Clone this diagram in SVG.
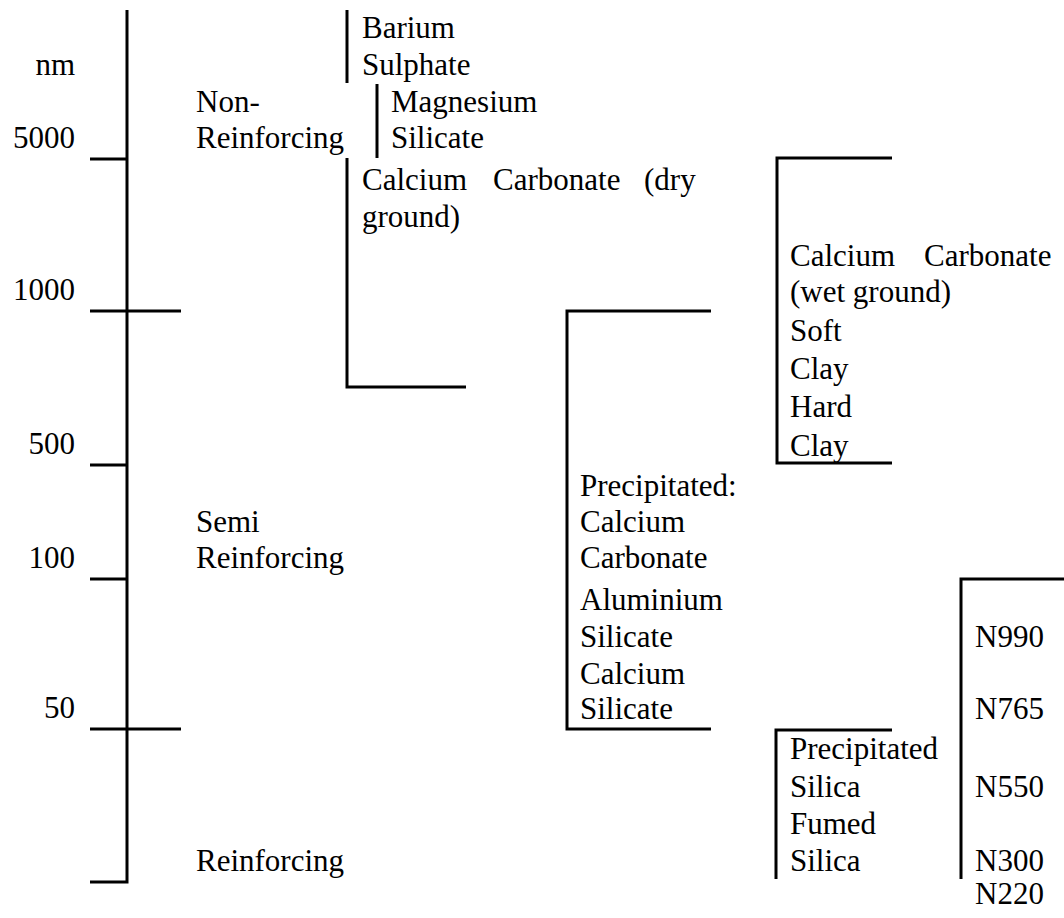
<svg xmlns="http://www.w3.org/2000/svg" width="1064" height="918" viewBox="0 0 1064 918">
  <style>
    text { font-family: "Liberation Serif", "Times New Roman", serif; font-size: 31px; fill: #000; }
    .ax { text-anchor: end; }
    .ln { fill: none; stroke: #000; stroke-width: 3; stroke-linecap: butt; stroke-linejoin: miter; }
  </style>
  <rect width="1064" height="918" fill="#fff"/>

  <g id="connectors">
    <!-- main scale axis -->
    <path class="ln" d="M127 10 V882 H90"/>
    <path class="ln" d="M90 159 H127"/>
    <path class="ln" d="M90 311 H181"/>
    <path class="ln" d="M90 465 H127"/>
    <path class="ln" d="M90 579 H127"/>
    <path class="ln" d="M90 729 H181"/>
    <!-- brackets -->
    <path class="ln" d="M347 10 V83"/>
    <path class="ln" d="M377 84 V158"/>
    <path class="ln" d="M347 158 V387 H466"/>
    <path class="ln" d="M711 311 H567 V729 H711"/>
    <path class="ln" d="M892 158 H777 V463 H892"/>
    <path class="ln" d="M892 730 H776 V879"/>
    <path class="ln" d="M1064 579 H961 V879"/>
  </g>

  <g id="scale-labels">
    <text class="ax" x="75" y="75">nm</text>
    <text class="ax" x="75" y="148">5000</text>
    <text class="ax" x="75" y="300">1000</text>
    <text class="ax" x="75" y="454">500</text>
    <text class="ax" x="75" y="568">100</text>
    <text class="ax" x="75" y="718">50</text>
  </g>

  <g id="non-reinforcing">
    <text x="196" y="112">Non-</text>
    <text x="196" y="148">Reinforcing</text>
  </g>
  <g id="semi-reinforcing">
    <text x="196" y="532">Semi</text>
    <text x="196" y="568">Reinforcing</text>
  </g>
  <g id="reinforcing">
    <text x="196" y="871">Reinforcing</text>
  </g>

  <g id="barium-sulphate">
    <text x="362" y="38">Barium</text>
    <text x="362" y="75">Sulphate</text>
  </g>
  <g id="magnesium-silicate">
    <text x="391" y="112">Magnesium</text>
    <text x="391" y="148">Silicate</text>
  </g>
  <g id="calcium-carbonate-dry">
    <text x="362" y="190">Calcium</text>
    <text x="493" y="190">Carbonate</text>
    <text x="644" y="190">(dry</text>
    <text x="362" y="227">ground)</text>
  </g>

  <g id="calcium-carbonate-wet-clays">
    <text x="790" y="266">Calcium</text>
    <text x="924" y="266">Carbonate</text>
    <text x="790" y="302">(wet ground)</text>
    <text x="790" y="341">Soft</text>
    <text x="790" y="379">Clay</text>
    <text x="790" y="417">Hard</text>
    <text x="790" y="456">Clay</text>
  </g>

  <g id="precipitated">
    <text x="580" y="496">Precipitated:</text>
    <text x="580" y="532">Calcium</text>
    <text x="580" y="568">Carbonate</text>
    <text x="580" y="610">Aluminium</text>
    <text x="580" y="647">Silicate</text>
    <text x="580" y="684">Calcium</text>
    <text x="580" y="719">Silicate</text>
  </g>

  <g id="silicas">
    <text x="790" y="759">Precipitated</text>
    <text x="790" y="797">Silica</text>
    <text x="790" y="834">Fumed</text>
    <text x="790" y="871">Silica</text>
  </g>

  <g id="carbon-blacks">
    <text x="975" y="647">N990</text>
    <text x="975" y="719">N765</text>
    <text x="975" y="797">N550</text>
    <text x="975" y="871">N300</text>
    <text x="975" y="904">N220</text>
  </g>
</svg>
